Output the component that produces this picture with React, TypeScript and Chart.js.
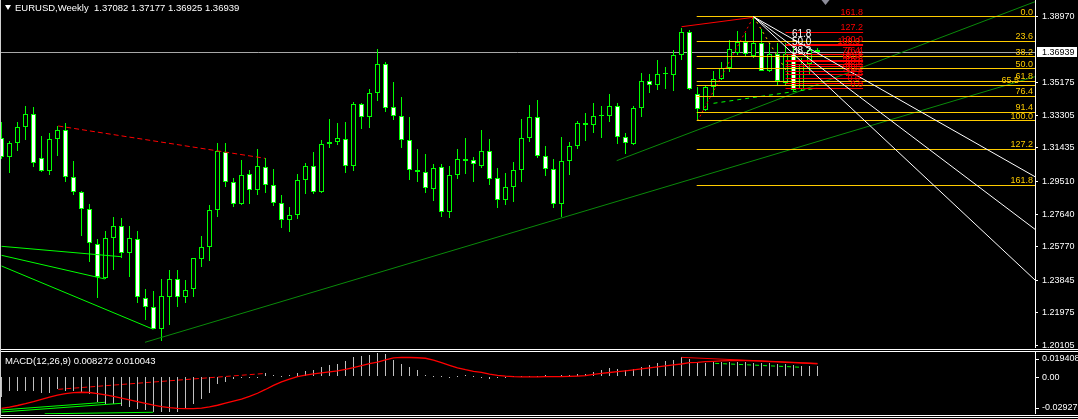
import React, { useEffect, useRef } from 'react';
import { Chart, registerables } from 'chart.js';

Chart.register(...registerables);

// ---------------- DATA ----------------
const TITLE = 'EURUSD,Weekly  1.37082 1.37177 1.36925 1.36939';
const MACD_TITLE = 'MACD(12,26,9) 0.008272 0.010043';

const OPEN = [
  1.32008, 1.30934, 1.31704, 1.32622, 1.33368, 1.30843, 1.30131, 1.31933, 1.32467, 1.29786,
  1.28891, 1.27915, 1.25906, 1.23955, 1.26285, 1.26939, 1.2539, 1.26193, 1.22841, 1.22324,
  1.21062, 1.22864, 1.23897, 1.22864, 1.23323, 1.25045, 1.25734, 1.27875, 1.31221, 1.29465,
  1.28202, 1.29924, 1.29006, 1.30326, 1.29293, 1.2826, 1.27301, 1.27571, 1.2958, 1.30401,
  1.28925, 1.31663, 1.31795, 1.31933, 1.30401, 1.33942, 1.3323, 1.34608, 1.36238, 1.3377,
  1.33288, 1.31876, 1.30154, 1.30039, 1.29063, 1.30326, 1.27777, 1.29867, 1.30705, 1.30728,
  1.30418, 1.31244, 1.29695, 1.28432, 1.29178, 1.30154, 1.31991, 1.33196, 1.30957, 1.30211,
  1.28202, 1.3067, 1.31549, 1.32852, 1.32737, 1.33253, 1.33253, 1.33827, 1.32048, 1.31681,
  1.33713, 1.35262, 1.35033, 1.35664, 1.35607, 1.36772, 1.38075, 1.34516, 1.33615, 1.34918,
  1.35412, 1.36043, 1.3687, 1.37535, 1.36715, 1.37444, 1.35854, 1.36829, 1.35148, 1.36829,
  1.34803, 1.36255, 1.37082,
];
const HIGH = [
  1.32926, 1.31836, 1.32909, 1.33845, 1.3377, 1.32123, 1.32312, 1.32697, 1.32852, 1.30688,
  1.28966, 1.28219, 1.2621, 1.2667, 1.27456, 1.27416, 1.26939, 1.26652, 1.2334, 1.23226,
  1.23914, 1.24431, 1.24431, 1.23857, 1.25137, 1.26383, 1.28162, 1.31704, 1.31704, 1.29695,
  1.30745, 1.30171, 1.31376, 1.30843, 1.30211, 1.28736, 1.2803, 1.29941, 1.3059, 1.31221,
  1.31893, 1.33098, 1.32852, 1.32909, 1.34091, 1.34034, 1.34803, 1.37116, 1.36353, 1.35222,
  1.34344, 1.33196, 1.31376, 1.31089, 1.30515, 1.30515, 1.30401, 1.31376, 1.32008, 1.309,
  1.32467, 1.3195, 1.30269, 1.29982, 1.3063, 1.33098, 1.33902, 1.34189, 1.31549, 1.30802,
  1.32065, 1.31778, 1.32984, 1.33443, 1.34017, 1.33845, 1.34533, 1.34017, 1.32295, 1.33827,
  1.35739, 1.35681, 1.36485, 1.36083, 1.37059, 1.38339, 1.38207, 1.34918, 1.3505, 1.35871,
  1.36387, 1.37633, 1.3815, 1.38035, 1.3897, 1.38247, 1.37444, 1.37444, 1.37444, 1.37346,
  1.36583, 1.37157, 1.37177,
];
const LOW = [
  1.30802, 1.30016, 1.31279, 1.31893, 1.30326, 1.30073, 1.29884, 1.30975, 1.29499, 1.28736,
  1.26383, 1.24907, 1.22841, 1.23897, 1.24431, 1.25137, 1.24046, 1.2252, 1.21561, 1.21027,
  1.20373, 1.21274, 1.22324, 1.2252, 1.22898, 1.2462, 1.24965, 1.2749, 1.29178, 1.2803,
  1.28162, 1.28219, 1.28736, 1.28834, 1.28105, 1.26859, 1.26595, 1.27341, 1.28776, 1.28776,
  1.28834, 1.31417, 1.31606, 1.29982, 1.30131, 1.32542, 1.32599, 1.34132, 1.33517, 1.33041,
  1.31451, 1.29597, 1.29499, 1.28868, 1.28392, 1.2749, 1.27433, 1.29672, 1.29941, 1.29499,
  1.30303, 1.2931, 1.27973, 1.28162, 1.28351, 1.29499, 1.31761, 1.30877, 1.29844, 1.28007,
  1.2749, 1.29884, 1.31394, 1.31853, 1.32312, 1.32025, 1.32943, 1.31681, 1.31072, 1.31606,
  1.3323, 1.34608, 1.34763, 1.34838, 1.34723, 1.36485, 1.34763, 1.32984, 1.33575, 1.34378,
  1.35337, 1.35813, 1.36772, 1.36657, 1.36583, 1.3583, 1.35813, 1.3505, 1.3505, 1.34723,
  1.34763, 1.35624, 1.36925,
];
const CLOSE = [
  1.30917, 1.31704, 1.32656, 1.33368, 1.30556, 1.30131, 1.31933, 1.32467, 1.29786, 1.28891,
  1.27915, 1.25964, 1.24046, 1.26251, 1.26939, 1.2539, 1.26251, 1.22864, 1.22324, 1.21062,
  1.22939, 1.23897, 1.22864, 1.23266, 1.25103, 1.25734, 1.27875, 1.31279, 1.29465, 1.28219,
  1.29884, 1.29006, 1.30401, 1.2931, 1.2826, 1.27301, 1.27588, 1.2958, 1.30401, 1.28925,
  1.31663, 1.31795, 1.31991, 1.30401, 1.33942, 1.33196, 1.34574, 1.36238, 1.33713, 1.33288,
  1.31876, 1.30154, 1.30039, 1.29121, 1.30269, 1.27777, 1.29867, 1.30785, 1.30802, 1.30498,
  1.31244, 1.29637, 1.28432, 1.29178, 1.30154, 1.31991, 1.33196, 1.30957, 1.30211, 1.28202,
  1.3067, 1.31549, 1.32852, 1.32737, 1.33253, 1.33271, 1.33827, 1.32048, 1.31704, 1.33713,
  1.35262, 1.35033, 1.35664, 1.35681, 1.36755, 1.38075, 1.34803, 1.33655, 1.34918, 1.35412,
  1.36009, 1.37099, 1.37535, 1.36812, 1.37444, 1.35854, 1.36829, 1.3528, 1.36829, 1.34763,
  1.36255, 1.37059, 1.36939,
];

const MACD_MAIN = [
  -0.0157, -0.0112, -0.0112, -0.011, -0.0112, -0.0126, -0.013, -0.0097, -0.011, -0.0112,
  -0.0126, -0.0138, -0.0196, -0.0214, -0.0217, -0.023, -0.024, -0.0256, -0.0261, -0.0277,
  -0.0275, -0.0277, -0.0275, -0.0242, -0.0212, -0.0178, -0.0125, -0.0061, -0.0038, -0.0017,
  -0.0009, -0.0003, -0.0001, 0.0026, 0.0012, 0.0006, 0.0012, 0.0026, 0.0041, 0.0049,
  0.0079, 0.0093, 0.0102, 0.0122, 0.0151, 0.016, 0.0172, 0.019, 0.018, 0.0131,
  0.0102, 0.0073, 0.0049, 0.0012, 0.0006, 0.0003, -0.0003, 0.0006, 0.0012, 0.0003,
  -0.0009, -0.0017, -0.0009, -0.0003, 0.0002, 0.0006, 0.0009, 0.0006, 0.0011, 0.0009,
  0.0012, 0.0015, 0.0019, 0.0024, 0.004, 0.0051, 0.0065, 0.0059, 0.0051, 0.0059,
  0.0078, 0.0091, 0.0108, 0.0121, 0.0132, 0.0153, 0.014, 0.0113, 0.011, 0.0113,
  0.0113, 0.0113, 0.0113, 0.0112, 0.0111, 0.0108, 0.0105, 0.0103, 0.0098, 0.0095,
  0.0088, 0.0085, 0.008272,
];
const MACD_SIGNAL = [
  -0.0248, -0.0238, -0.0226, -0.0212, -0.0196, -0.0178, -0.016, -0.0145, -0.0133, -0.0125,
  -0.0122, -0.0124, -0.0132, -0.0142, -0.0155, -0.0168, -0.0182, -0.0196, -0.021, -0.0223,
  -0.0234, -0.0242, -0.0248, -0.025, -0.025, -0.0246, -0.0237, -0.0224, -0.0208, -0.0192,
  -0.0175, -0.0155, -0.013, -0.01, -0.0068, -0.004, -0.0018, 0.0, 0.0012, 0.0022,
  0.003, 0.0038, 0.0046, 0.0058, 0.0072, 0.0088, 0.0102, 0.0115, 0.0132, 0.0148,
  0.0152, 0.0151, 0.0149, 0.0145, 0.013, 0.011, 0.009, 0.007, 0.0055, 0.0042,
  0.0034, 0.002, 0.001, 0.0004, 0.0, -0.0002, -0.0002, -0.0001, 0.0, 0.0,
  0.0, 0.0002, 0.0005, 0.0009, 0.0019, 0.0026, 0.0033, 0.004, 0.0046, 0.0053,
  0.0061, 0.0069, 0.0077, 0.0085, 0.0093, 0.01, 0.011, 0.0113, 0.0118, 0.0121,
  0.0124, 0.0126, 0.0128, 0.0127, 0.0125, 0.0122, 0.0119, 0.0116, 0.0113, 0.011,
  0.0107, 0.0104, 0.010043,
];

const PRICE_TICKS = [1.3897, 1.35175, 1.33305, 1.31435, 1.2951, 1.2764, 1.2577, 1.23845, 1.21975, 1.20105];
const BID = 1.36939;
const MACD_TICKS = [0.019408, 0, -0.02927];
const MACD_TICK_LABELS = ['0.019408', '0.00', '-0.02927'];

// Fibonacci retracement (gold)
const GOLD_FIB_LABELS = ['0.0', '23.6', '38.2', '50.0', '61.8', '65.5', '76.4', '91.4', '100.0', '127.2', '161.8'];
const GOLD_FIB_PRICES = [1.3897, 1.37557, 1.36683, 1.35977, 1.35271, 1.35049, 1.34397, 1.33499, 1.32984, 1.31356, 1.29285];
const GOLD_FIB_FROM = 86.9;

// Fibonacci retracements (red)
const RED_FIB_A_LABELS = ['0.0', '23.6', '38.2', '50.0', '61.8', '76.4', '100.0', '127.2', '161.8'];
const RED_FIB_A_PRICES = [1.34849, 1.35448, 1.35818, 1.36118, 1.36417, 1.36787, 1.37386, 1.38076, 1.38954];
const RED_FIB_B_LABELS = ['0.0', '23.6', '38.2', '50.0', '61.8', '76.4', '100.0'];
const RED_FIB_B_PRICES = [1.35148, 1.35657, 1.35972, 1.36227, 1.36482, 1.36797, 1.37306];
const RED_FIB_SPAN = [98, 107.7];

// Fibonacci fan (white)
const FAN_ORIGIN = [94, 1.3897];
const FAN_END_PRICES = [1.29786, 1.26767, 1.23857];
const FAN_LABELS = ['61.8', '50.0', '38.2'];
const FAN_LABEL_PRICES = [1.37977, 1.37478, 1.36961];
const FAN_LABEL_AT = 98.8;

// Trend lines ([bar index, price])
const RED_DASH_LEFT = [[7.1, 1.32697], [32.94, 1.30843]];
const LIME_LINE_A = [[0, 1.25791], [14.94, 1.25195]];
const LIME_LINE_B = [[0, 1.25275], [12.94, 1.23914]];
const LIME_LINE_C = [[0, 1.24661], [18.98, 1.21027]];
const GREEN_LINE_1 = [[17.94, 1.20281], [129.19, 1.3553]];
const GREEN_LINE_2 = [[76.9, 1.30705], [129.19, 1.39831]];
const RED_TOP_LINE = [[85, 1.38396], [94, 1.38936]];
const FIB_DIAGONAL = [[87, 1.32984], [94, 1.3897]];
const GOLD_DIAGONAL = [[94, 1.3897], [99.4, 1.34878]];
const LIME_DASH_LINE = [[89, 1.33999], [101.9, 1.34861]];

// MACD window lines ([bar index, value])
const MACD_RED_DASH = [[7.1, -0.0099], [33, 0.0026]];
const MACD_RED_LINE = [[85, 0.0152], [102, 0.0105]];
const MACD_LIME_DASH = [[89.2, 0.0105], [100, 0.0074]];
const MACD_LIME_A = [[0, -0.0277], [14.94, -0.0209]];
const MACD_LIME_B = [[0, -0.0261], [12.94, -0.0201]];
const MACD_LIME_C = [[5.4, -0.0291], [18.98, -0.0279]];

// axis ranges
const X_MIN = -0.1875;
const X_MAX = 129.1875;
const PRICE_MAX = 1.39929;
const PRICE_MIN = 1.19954;
const MACD_MAX = 0.019408;
const MACD_MIN = -0.02927;

// ---------------- STYLE ----------------
const LIME = '#00ff00';
const GOLD = '#ffcc00';
const RED = '#ff0000';
const DKGREEN = '#0a8a0a';
const FONT = '"Liberation Sans", Arial, sans-serif';

const seg = (pts: number[][], color: string, dash: number[] = [], order = 2) => ({
  type: 'line' as const,
  data: pts.map(([x, y]) => ({ x, y })),
  borderColor: color,
  borderWidth: 1,
  borderDash: dash,
  pointRadius: 0,
  pointHoverRadius: 0,
  fill: false,
  tension: 0,
  order,
});

const xScaleOpts = {
  type: 'linear' as const,
  min: X_MIN,
  max: X_MAX,
  offset: false,
  display: false,
  grid: { display: false },
};

function rightAxis(min: number, max: number, ticks: number[], showLabels: boolean) {
  return {
    type: 'linear' as const,
    position: 'right' as const,
    min,
    max,
    beginAtZero: false,
    border: { display: true, color: '#ffffff', width: 1 },
    grid: { drawOnChartArea: false, drawTicks: showLabels, tickLength: 3, color: '#ffffff' },
    ticks: {
      display: showLabels,
      autoSkip: false,
      color: '#ffffff',
      padding: 4,
      font: { family: FONT, size: 9 },
      callback: (v: any) => Number(v).toFixed(5),
    },
    afterBuildTicks: (scale: any) => {
      scale.ticks = ticks.map((v) => ({ value: v }));
    },
    afterFit: (scale: any) => {
      scale.width = 43;
      scale.paddingTop = 0;
      scale.paddingBottom = 0;
    },
  };
}

// snaps the library-computed bar edges and horizontal segments to whole pixels (crisp 1px strokes)
const pixelSnap = {
  id: 'pixelSnap',
  beforeDatasetsDraw(chart: any) {
    chart.data.datasets.forEach((_ds: any, di: number) => {
      const meta = chart.getDatasetMeta(di);
      if (meta.type === 'bar') {
        meta.data.forEach((el: any) => {
          const up = el.y <= el.base;
          const t = Math.round(Math.min(el.y, el.base));
          let b = Math.round(Math.max(el.y, el.base));
          if (b - t < 1) b = t + 1;
          if (up) {
            el.y = t;
            el.base = b;
          } else {
            el.y = b;
            el.base = t;
          }
          el.height = Math.abs(el.base - el.y);
        });
      } else if (meta.type === 'line' && meta.data.length === 2 && Math.abs(meta.data[0].y - meta.data[1].y) < 0.01) {
        const yy = Math.round(meta.data[0].y - 0.5) + 0.5;
        meta.data.forEach((p: any) => {
          p.y = yy;
        });
      }
    });
  },
};

const mainOverlay = {
  id: 'mainOverlay',
  afterDatasetsDraw(chart: any) {
    const { ctx, chartArea } = chart;
    const x = chart.scales.x;
    const y = chart.scales.y;
    ctx.save();
    ctx.beginPath();
    ctx.rect(chartArea.left, chartArea.top, chartArea.right - chartArea.left, chartArea.bottom - chartArea.top);
    ctx.clip();
    ctx.font = `9px ${FONT}`;
    ctx.textBaseline = 'alphabetic';
    // gold fib labels
    ctx.fillStyle = GOLD;
    ctx.textAlign = 'right';
    const gx = x.getPixelForValue(X_MAX) - 2;
    GOLD_FIB_LABELS.forEach((t, k) => {
      const dx = t === '65.5' ? -14 : 0;
      ctx.fillText(t, gx + dx, y.getPixelForValue(GOLD_FIB_PRICES[k]) - 2);
    });
    // red fib labels
    ctx.fillStyle = RED;
    const rx = x.getPixelForValue(RED_FIB_SPAN[1]);
    RED_FIB_A_LABELS.forEach((t, k) => ctx.fillText(t, rx, y.getPixelForValue(RED_FIB_A_PRICES[k]) - 2));
    RED_FIB_B_LABELS.forEach((t, k) => ctx.fillText(t, rx - 3, y.getPixelForValue(RED_FIB_B_PRICES[k]) - 2));
    // fan labels
    ctx.fillStyle = '#ffffff';
    ctx.textAlign = 'left';
    ctx.textBaseline = 'middle';
    ctx.font = `10px ${FONT}`;
    const fx = x.getPixelForValue(FAN_LABEL_AT);
    FAN_LABELS.forEach((t, k) => ctx.fillText(t, fx, y.getPixelForValue(FAN_LABEL_PRICES[k])));
    ctx.restore();
  },
  afterDraw(chart: any) {
    const { ctx, chartArea } = chart;
    const x = chart.scales.x;
    const y = chart.scales.y;
    ctx.save();
    // bid price box
    const yb = y.getPixelForValue(BID);
    ctx.fillStyle = '#ffffff';
    ctx.fillRect(chartArea.right + 2, Math.round(yb) - 5, 40, 10);
    ctx.fillStyle = '#000000';
    ctx.font = `9px ${FONT}`;
    ctx.textAlign = 'left';
    ctx.textBaseline = 'middle';
    ctx.fillText(BID.toFixed(5), chartArea.right + 7, yb + 0.5);
    // chart shift marker
    const sx = x.getPixelForValue(103);
    ctx.fillStyle = '#8c8c99';
    ctx.beginPath();
    ctx.moveTo(sx - 4, 0);
    ctx.lineTo(sx + 4, 0);
    ctx.lineTo(sx, 5);
    ctx.closePath();
    ctx.fill();
    ctx.restore();
  },
};

const macdOverlay = {
  id: 'macdOverlay',
  afterDraw(chart: any) {
    const { ctx, chartArea } = chart;
    const y = chart.scales.y;
    ctx.save();
    ctx.font = `9px ${FONT}`;
    ctx.fillStyle = '#ffffff';
    ctx.strokeStyle = '#ffffff';
    ctx.textAlign = 'left';
    ctx.textBaseline = 'middle';
    const shifts = [6.5, 0.5, -6.5];
    MACD_TICKS.forEach((v, k) => {
      const py = y.getPixelForValue(v) + shifts[k];
      ctx.fillText(MACD_TICK_LABELS[k], chartArea.right + 7, py);
      ctx.beginPath();
      ctx.moveTo(chartArea.right, Math.round(py) + 0.5);
      ctx.lineTo(chartArea.right + 4, Math.round(py) + 0.5);
      ctx.stroke();
    });
    ctx.restore();
  },
};

function MainChart() {
  const ref = useRef<HTMLCanvasElement>(null);
  useEffect(() => {
    const idx = OPEN.map((_, i) => i);
    const datasets: any[] = [
      seg([[X_MIN, BID], [X_MAX, BID]], '#a8a8a8', [], 30),
      {
        type: 'bar',
        data: idx.map((i) => ({ x: i, y: [LOW[i], HIGH[i]] })),
        backgroundColor: LIME,
        borderWidth: 0,
        barThickness: 1,
        grouped: false,
        inflateAmount: 0,
        order: 21,
      },
      {
        type: 'bar',
        data: idx.map((i) => ({ x: i, y: [OPEN[i], CLOSE[i]] })),
        backgroundColor: idx.map((i) => (CLOSE[i] < OPEN[i] ? '#ffffff' : '#000000')),
        borderColor: LIME,
        borderWidth: 1,
        borderSkipped: false,
        barThickness: 5,
        minBarLength: 1,
        grouped: false,
        inflateAmount: 0,
        order: 20,
      },
      seg(GREEN_LINE_1, DKGREEN, [], 8),
      seg(GREEN_LINE_2, DKGREEN, [], 8),
      seg(RED_DASH_LEFT, RED, [5, 3], 6),
      seg(LIME_LINE_A, LIME, [], 6),
      seg(LIME_LINE_B, LIME, [], 6),
      seg(LIME_LINE_C, LIME, [], 6),
      seg(RED_TOP_LINE, RED, [], 5),
      seg(FIB_DIAGONAL, RED, [2, 3], 5),
      seg(GOLD_DIAGONAL, GOLD, [2, 4], 5),
      seg(LIME_DASH_LINE, LIME, [4, 4], 5),
      ...RED_FIB_A_PRICES.map((p) => seg([[RED_FIB_SPAN[0], p], [RED_FIB_SPAN[1], p]], RED, [], 4)),
      ...RED_FIB_B_PRICES.map((p) => seg([[RED_FIB_SPAN[0], p], [RED_FIB_SPAN[1], p]], RED, [], 4)),
      ...GOLD_FIB_PRICES.map((p) => seg([[GOLD_FIB_FROM, p], [X_MAX, p]], GOLD, [], 3)),
      ...FAN_END_PRICES.map((p) => seg([FAN_ORIGIN, [X_MAX, p]], '#ffffff', [], 2)),
    ];
    const chart = new Chart(ref.current as HTMLCanvasElement, {
      type: 'bar',
      data: { datasets },
      options: {
        responsive: false,
        animation: false,
        events: [],
        layout: { padding: 0 },
        plugins: { legend: { display: false }, tooltip: { enabled: false }, title: { display: false } },
        scales: {
          x: xScaleOpts,
          y: rightAxis(PRICE_MIN, PRICE_MAX, PRICE_TICKS, true),
        },
      } as any,
      plugins: [pixelSnap, mainOverlay],
    });
    return () => chart.destroy();
  }, []);
  return (
    <canvas
      ref={ref}
      width={1078}
      height={348}
      style={{ position: 'absolute', left: 0, top: 0, width: 1078, height: 348 }}
    />
  );
}

function MacdChart() {
  const ref = useRef<HTMLCanvasElement>(null);
  useEffect(() => {
    const idx = MACD_MAIN.map((_, i) => i);
    const datasets: any[] = [
      {
        type: 'bar',
        data: idx.map((i) => ({ x: i, y: MACD_MAIN[i] })),
        backgroundColor: '#c0c0c0',
        borderWidth: 0,
        barThickness: 1,
        grouped: false,
        inflateAmount: 0,
        order: 10,
      },
      {
        type: 'line',
        data: idx.map((i) => ({ x: i, y: MACD_SIGNAL[i] })),
        borderColor: RED,
        borderWidth: 1.3,
        pointRadius: 0,
        fill: false,
        tension: 0,
        order: 5,
      },
      seg(MACD_RED_DASH, RED, [5, 3], 2),
      seg(MACD_RED_LINE, RED, [], 2),
      seg(MACD_LIME_DASH, LIME, [4, 4], 2),
      seg(MACD_LIME_A, LIME, [], 2),
      seg(MACD_LIME_B, LIME, [], 2),
      seg(MACD_LIME_C, LIME, [], 2),
    ];
    const chart = new Chart(ref.current as HTMLCanvasElement, {
      type: 'bar',
      data: { datasets },
      options: {
        responsive: false,
        animation: false,
        events: [],
        layout: { padding: 0 },
        plugins: { legend: { display: false }, tooltip: { enabled: false }, title: { display: false } },
        scales: {
          x: xScaleOpts,
          y: rightAxis(MACD_MIN, MACD_MAX, MACD_TICKS, false),
        },
      } as any,
      plugins: [pixelSnap, macdOverlay],
    });
    return () => chart.destroy();
  }, []);
  return (
    <canvas
      ref={ref}
      width={1078}
      height={62}
      style={{ position: 'absolute', left: 0, top: 352, width: 1078, height: 62 }}
    />
  );
}

const hline = (top: number) => (
  <div style={{ position: 'absolute', left: 0, top, width: 1078, height: 1, background: '#ffffff' }} />
);

export default function App() {
  return (
    <div
      style={{
        position: 'relative',
        width: 1078,
        height: 419,
        background: '#000000',
        overflow: 'hidden',
        fontFamily: FONT,
      }}
    >
      <style>{'html,body{margin:0;padding:0;background:#000;}'}</style>
      <MainChart />
      <MacdChart />
      {hline(349)}
      {hline(351)}
      {hline(415)}
      {hline(417)}
      <div style={{ position: 'absolute', left: 0, top: 0, width: 1, height: 417, background: '#d0d0d0' }} />
      <div
        style={{
          position: 'absolute',
          left: 5,
          top: 5,
          width: 0,
          height: 0,
          borderLeft: '3.5px solid transparent',
          borderRight: '3.5px solid transparent',
          borderTop: '5px solid #ffffff',
        }}
      />
      <div
        style={{
          position: 'absolute',
          left: 15,
          top: 1,
          color: '#ffffff',
          fontSize: 9.5,
          lineHeight: '13px',
          whiteSpace: 'pre',
        }}
      >
        {TITLE}
      </div>
      <div
        style={{
          position: 'absolute',
          left: 5,
          top: 354,
          color: '#ffffff',
          fontSize: 9.5,
          lineHeight: '13px',
          whiteSpace: 'pre',
        }}
      >
        {MACD_TITLE}
      </div>
    </div>
  );
}
